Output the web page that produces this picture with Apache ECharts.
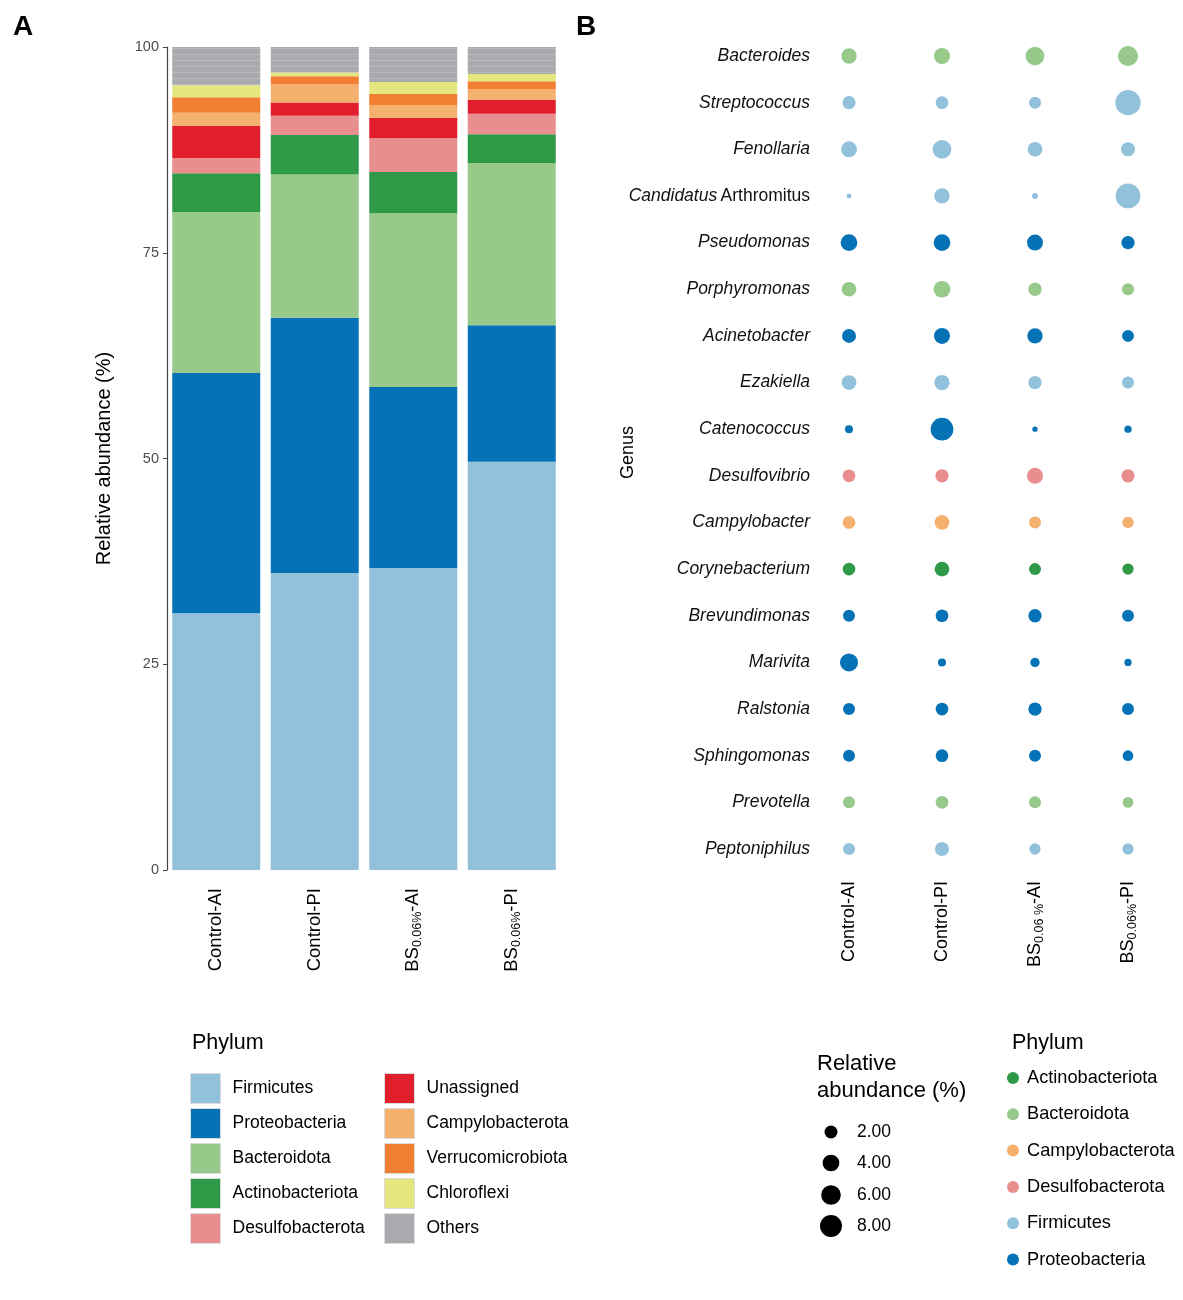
<!DOCTYPE html>
<html>
<head>
<meta charset="utf-8">
<script src="https://cdn.jsdelivr.net/npm/echarts@6/dist/echarts.min.js"></script>
<style>html,body{margin:0;padding:0;background:#fff}#c{width:1183px;height:1300px}</style>
</head>
<body>
<div id="c"></div>
<script>
// ---------- Panel A data (relative abundance %, stacked bottom -> top) ----------
const samples = ['Control-AI', 'Control-PI', 'BS0.06%-AI', 'BS0.06%-PI'];
const firmicutes        = [31.2, 36.1, 36.7, 49.6];
const proteobacteria    = [29.2, 31.0, 22.0, 16.6];
const bacteroidota      = [19.55, 17.4, 21.1, 19.7];
const actinobacteriota  = [4.7, 4.8, 5.0, 3.5];
const desulfobacterota  = [1.85, 2.35, 4.1, 2.5];
const unassigned        = [3.9, 1.6, 2.5, 1.7];
const campylobacterota  = [1.6, 2.2, 1.55, 1.3];
const verrucomicrobiota = [1.9, 1.0, 1.35, 0.93];
const chloroflexi       = [1.46, 0.45, 1.45, 0.9];
const others            = [4.64, 3.1, 4.25, 3.27];
const yTicks = [0, 25, 50, 75, 100];

// ---------- Panel B data ----------
const bubbleSamples = ['Control-AI', 'Control-PI', 'BS0.06 %-AI', 'BS0.06%-PI'];
const genera = ['Bacteroides', 'Streptococcus', 'Fenollaria', 'Candidatus Arthromitus', 'Pseudomonas',
  'Porphyromonas', 'Acinetobacter', 'Ezakiella', 'Catenococcus', 'Desulfovibrio', 'Campylobacter',
  'Corynebacterium', 'Brevundimonas', 'Marivita', 'Ralstonia', 'Sphingomonas', 'Prevotella', 'Peptoniphilus'];
const genusPhylum = ['Bacteroidota', 'Firmicutes', 'Firmicutes', 'Firmicutes', 'Proteobacteria',
  'Bacteroidota', 'Proteobacteria', 'Firmicutes', 'Proteobacteria', 'Desulfobacterota', 'Campylobacterota',
  'Actinobacteriota', 'Proteobacteria', 'Proteobacteria', 'Proteobacteria', 'Proteobacteria', 'Bacteroidota', 'Firmicutes'];
// abundance per genus: [Control-AI, Control-PI, BS-AI, BS-PI]
const abBacteroides    = [3.16, 3.56, 5.34, 6.33];
const abStreptococcus  = [2.14, 1.87, 1.58, 11.2];
const abFenollaria     = [3.56, 5.34, 2.83, 2.47];
const abCandidatus     = [0.02, 3.16, 0.10, 10.6];
const abPseudomonas    = [3.99, 3.99, 3.56, 2.14];
const abPorphyromonas  = [2.83, 3.99, 2.14, 1.58];
const abAcinetobacter  = [2.47, 3.56, 3.16, 1.58];
const abEzakiella      = [2.83, 3.16, 2.14, 1.58];
const abCatenococcus   = [0.40, 8.64, 0.04, 0.27];
const abDesulfovibrio  = [1.87, 2.14, 3.56, 2.14];
const abCampylobacter  = [1.87, 2.83, 1.58, 1.32];
const abCorynebacterium= [1.87, 2.83, 1.58, 1.32];
const abBrevundimonas  = [1.58, 1.87, 2.14, 1.58];
const abMarivita       = [4.85, 0.40, 0.69, 0.27];
const abRalstonia      = [1.58, 1.87, 2.14, 1.58];
const abSphingomonas   = [1.58, 1.87, 1.58, 1.11];
const abPrevotella     = [1.58, 1.87, 1.58, 1.11];
const abPeptoniphilus  = [1.58, 2.47, 1.32, 1.32];
const sizeLegendValues = [2, 4, 6, 8];

const abundance = [abBacteroides, abStreptococcus, abFenollaria, abCandidatus, abPseudomonas,
  abPorphyromonas, abAcinetobacter, abEzakiella, abCatenococcus, abDesulfovibrio, abCampylobacter,
  abCorynebacterium, abBrevundimonas, abMarivita, abRalstonia, abSphingomonas, abPrevotella, abPeptoniphilus];

const colors = {
  Firmicutes: '#92c1dc', Proteobacteria: '#0572b5', Bacteroidota: '#97c98b', Actinobacteriota: '#2e9947',
  Desulfobacterota: '#e88e8e', Unassigned: '#e11f2c', Campylobacterota: '#f4b16d', Verrucomicrobiota: '#f27f31',
  Chloroflexi: '#e5e67d', Others: '#a8aaad'
};

const FONT = '"Liberation Sans", Arial, Helvetica, sans-serif';
const sizeFn = v => 4 + 6.36 * Math.sqrt(v);

const stackDefs = [
  ['Firmicutes', firmicutes], ['Proteobacteria', proteobacteria], ['Bacteroidota', bacteroidota],
  ['Actinobacteriota', actinobacteriota], ['Desulfobacterota', desulfobacterota], ['Unassigned', unassigned],
  ['Campylobacterota', campylobacterota], ['Verrucomicrobiota', verrucomicrobiota], ['Chloroflexi', chloroflexi],
  ['Others', others]
];

const barSeries = stackDefs.map(([name, data]) => {
  const s = {
    name, type: 'bar', stack: 'total', xAxisIndex: 0, yAxisIndex: 0, data,
    barWidth: 88, itemStyle: { color: colors[name] }, emphasis: { disabled: true }
  };
  if (name === 'Others') {
    s.itemStyle.decal = { symbol: 'rect', symbolSize: 1, dashArrayX: [[1, 0]], dashArrayY: [1, 5], color: 'rgba(255,255,255,0.18)' };
  }
  return s;
});

const bubblePhyla = ['Actinobacteriota', 'Bacteroidota', 'Campylobacterota', 'Desulfobacterota', 'Firmicutes', 'Proteobacteria'];
const scatterSeries = bubblePhyla.map(ph => {
  const data = [];
  genera.forEach((g, gi) => {
    if (genusPhylum[gi] !== ph) return;
    bubbleSamples.forEach((s, si) => data.push([s, g, abundance[gi][si]]));
  });
  return {
    name: ph, type: 'scatter', xAxisIndex: 1, yAxisIndex: 1, data,
    symbolSize: v => sizeFn(v[2]), itemStyle: { color: colors[ph], opacity: 1 }, emphasis: { disabled: true }
  };
});

function subLabel(v) {
  const m = v.match(/^BS(0\.06 ?%)(-.*)$/);
  if (m) return '{n|BS}{s|' + m[1] + '}{n|' + m[2] + '}';
  return '{n|' + v + '}';
}
const subRich = (fs) => ({
  n: { fontSize: fs, fontFamily: FONT, color: '#000', lineHeight: 22 },
  s: { fontSize: 12.5, fontFamily: FONT, color: '#000', lineHeight: 10, verticalAlign: 'bottom' }
});

const sizeLegendGraphics = [];
const sizeY = [1132, 1163, 1195, 1226];
sizeLegendValues.forEach((v, i) => {
  sizeLegendGraphics.push({ type: 'circle', shape: { cx: 831, cy: sizeY[i], r: sizeFn(v) / 2 }, style: { fill: '#000' } });
  sizeLegendGraphics.push({ type: 'text', x: 857, y: sizeY[i], style: { text: v.toFixed(2), font: '17.5px ' + FONT, fill: '#000', textVerticalAlign: 'middle' } });
});

const option = {
  animation: false,
  backgroundColor: '#fff',
  textStyle: { fontFamily: FONT },
  grid: [
    { left: 167, right: 622, top: 47, bottom: 430 },
    { left: 849, right: 55, top: 56, bottom: 451 }
  ],
  xAxis: [
    { type: 'category', gridIndex: 0, data: samples, axisLine: { show: false }, axisTick: { show: false },
      axisLabel: { rotate: 90, margin: 18, formatter: subLabel, rich: subRich(18.5) } },
    { type: 'category', gridIndex: 1, data: bubbleSamples, boundaryGap: false, axisLine: { show: false }, axisTick: { show: false },
      splitLine: { show: false },
      axisLabel: { rotate: 90, margin: 32, formatter: subLabel, rich: subRich(18) } }
  ],
  yAxis: [
    { type: 'value', gridIndex: 0, min: 0, max: 100, interval: 25,
      axisLine: { show: true, lineStyle: { color: '#444', width: 1.2 } },
      axisTick: { show: true, length: 4, lineStyle: { color: '#444' } },
      splitLine: { show: false },
      axisLabel: { color: '#4d4d4d', fontSize: 14.5, margin: 8, fontFamily: FONT },
      name: 'Relative abundance (%)', nameLocation: 'middle', nameGap: 53, nameMoveOverlap: false,
      nameTextStyle: { fontSize: 20, color: '#000', fontFamily: FONT } },
    { type: 'category', gridIndex: 1, data: genera, inverse: true, boundaryGap: false,
      axisLine: { show: false }, axisTick: { show: false }, splitLine: { show: false },
      axisLabel: { margin: 39, formatter: v => v === 'Candidatus Arthromitus' ? '{i|Candidatus} {n|Arthromitus}' : '{i|' + v + '}',
        rich: { i: { fontStyle: 'italic', fontSize: 17.5, color: '#111', fontFamily: FONT }, n: { fontSize: 17.5, color: '#111', fontFamily: FONT } } },
      name: 'Genus', nameLocation: 'middle', nameGap: 212, nameMoveOverlap: false,
      nameTextStyle: { fontSize: 18, color: '#000', fontFamily: FONT } }
  ],
  legend: [
    { left: 190, top: 1073, padding: 0, orient: 'vertical', selectedMode: false, icon: 'rect', itemWidth: 30, itemHeight: 30, itemGap: 4,
      itemStyle: { borderColor: '#dcdcdc', borderWidth: 1 },
      textStyle: { fontSize: 17.5, color: '#000', fontFamily: FONT, padding: [0, 0, 0, 7] },
      data: ['Firmicutes', 'Proteobacteria', 'Bacteroidota', 'Actinobacteriota', 'Desulfobacterota'] },
    { left: 384, top: 1073, padding: 0, orient: 'vertical', selectedMode: false, icon: 'rect', itemWidth: 30, itemHeight: 30, itemGap: 4,
      itemStyle: { borderColor: '#dcdcdc', borderWidth: 1, decal: 'none' },
      textStyle: { fontSize: 17.5, color: '#000', fontFamily: FONT, padding: [0, 0, 0, 7] },
      data: ['Unassigned', 'Campylobacterota', 'Verrucomicrobiota', 'Chloroflexi', 'Others'] },
    { left: 1007, top: 1068, padding: 0, orient: 'vertical', selectedMode: false, icon: 'circle', itemWidth: 12, itemHeight: 12, itemGap: 16.3,
      itemStyle: { borderWidth: 0 },
      textStyle: { fontSize: 18.2, color: '#000', fontFamily: FONT, lineHeight: 20, padding: [0, 0, 0, 3] },
      data: bubblePhyla }
  ],
  graphic: [
    { type: 'text', x: 13, y: 13, style: { text: 'A', font: 'bold 28px ' + FONT, fill: '#000' } },
    { type: 'text', x: 576, y: 13, style: { text: 'B', font: 'bold 28px ' + FONT, fill: '#000' } },
    { type: 'text', x: 192, y: 1043, style: { text: 'Phylum', font: '21.5px ' + FONT, fill: '#000', textVerticalAlign: 'middle' } },
    { type: 'text', x: 1012, y: 1043, style: { text: 'Phylum', font: '21.5px ' + FONT, fill: '#000', textVerticalAlign: 'middle' } },
    { type: 'text', x: 817, y: 1064, style: { text: 'Relative', font: '22px ' + FONT, fill: '#000', textVerticalAlign: 'middle' } },
    { type: 'text', x: 817, y: 1091, style: { text: 'abundance (%)', font: '22px ' + FONT, fill: '#000', textVerticalAlign: 'middle' } }
  ].concat(sizeLegendGraphics),
  series: barSeries.concat(scatterSeries)
};

const chart = echarts.init(document.getElementById('c'), null, { renderer: 'canvas' });
chart.setOption(option);
</script>
</body>
</html>
